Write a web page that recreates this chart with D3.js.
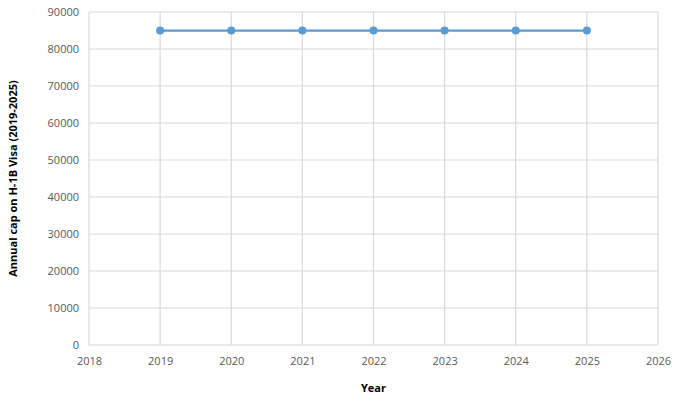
<!DOCTYPE html>
<html lang="en">
<head>
<meta charset="utf-8" />
<title>H-1B cap</title>
<script src="https://d3js.org/d3.v7.min.js"></script>
<style>
  body { margin: 0; background: #fff; }
  text { font-family: "Open Sans", "Liberation Sans", sans-serif; }
</style>
</head>
<body>
<div id="chart"></div>
<script>
// data
const years = [2019, 2020, 2021, 2022, 2023, 2024, 2025];
const caps = [85000, 85000, 85000, 85000, 85000, 85000, 85000];
const xTicks = [2018, 2019, 2020, 2021, 2022, 2023, 2024, 2025, 2026];
const yTicks = [0, 10000, 20000, 30000, 40000, 50000, 60000, 70000, 80000, 90000];

const W = 684, H = 399;
const margin = { top: 12, right: 26, bottom: 54, left: 89 };

const svg = d3.select("#chart").append("svg")
  .attr("width", W).attr("height", H);

const x = d3.scaleLinear().domain([2018, 2026]).range([margin.left, W - margin.right]);
const y = d3.scaleLinear().domain([0, 90000]).range([H - margin.bottom, margin.top]);

// gridlines
svg.append("g").selectAll("line").data(yTicks).join("line")
  .attr("x1", x(2018)).attr("x2", x(2026))
  .attr("y1", d => y(d)).attr("y2", d => y(d))
  .attr("stroke", "#d9d9d9").attr("stroke-width", 1.2);
svg.append("g").selectAll("line").data(xTicks).join("line")
  .attr("x1", d => x(d)).attr("x2", d => x(d))
  .attr("y1", y(0)).attr("y2", y(90000))
  .attr("stroke", "#d9d9d9").attr("stroke-width", 1.2);

// axes (labels only)
const yAxis = svg.append("g")
  .attr("transform", `translate(${x(2018)},0)`)
  .call(d3.axisLeft(y).tickValues(yTicks).tickSize(0).tickPadding(10).tickFormat(d3.format("d")));
const xAxis = svg.append("g")
  .attr("transform", `translate(0,${y(0)})`)
  .call(d3.axisBottom(x).tickValues(xTicks).tickSize(0).tickPadding(12).tickFormat(d3.format("d")));
[xAxis, yAxis].forEach(a => {
  a.select(".domain").remove();
  a.selectAll("text").attr("fill", "#595959").style("font-size", "11px")
    .style("font-family", "'Open Sans', 'Liberation Sans', sans-serif");
});

// line + markers
const line = d3.line().x((d, i) => x(years[i])).y(d => y(d));
svg.append("path").datum(caps)
  .attr("d", line).attr("fill", "none")
  .attr("stroke", "#5b9bd5").attr("stroke-width", 2.25);
svg.append("g").selectAll("circle").data(caps).join("circle")
  .attr("cx", (d, i) => x(years[i])).attr("cy", d => y(d))
  .attr("r", 4).attr("fill", "#5b9bd5");

// axis titles
svg.append("text")
  .attr("transform", `translate(17,${(y(0) + y(90000)) / 2}) rotate(-90)`)
  .attr("text-anchor", "middle")
  .style("font-size", "11px").style("font-weight", "bold").attr("fill", "#000")
  .text("Annual cap on H-1B Visa (2019-2025)");
svg.append("text")
  .attr("x", (x(2018) + x(2026)) / 2).attr("y", 392)
  .attr("text-anchor", "middle")
  .style("font-size", "11px").style("font-weight", "bold").attr("fill", "#000")
  .text("Year");
</script>
</body>
</html>
